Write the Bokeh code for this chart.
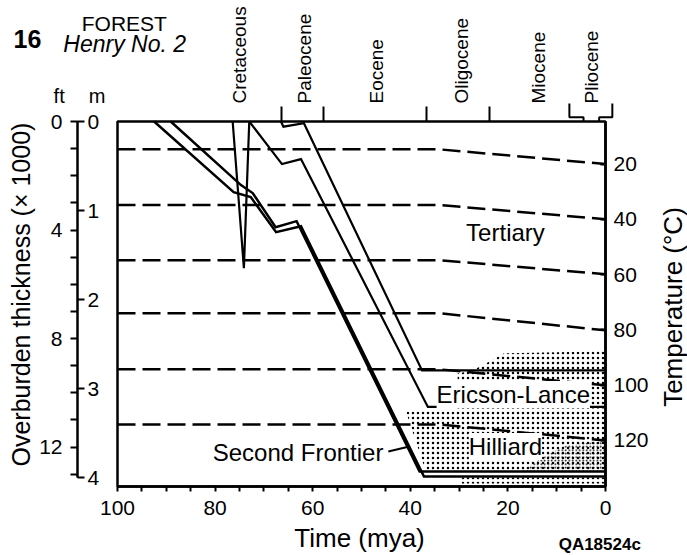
import math
from bokeh.plotting import figure
from bokeh.models import Range1d, LinearAxis, FixedTicker, Label
from bokeh.embed import file_html
from bokeh.resources import INLINE

FONT = "Liberation Sans"

# ---------------- data ----------------
epoch_names = ["Cretaceous", "Paleocene", "Eocene", "Oligocene", "Miocene", "Pliocene"]
epoch_label_mya = [75.0, 61.7, 47.0, 29.5, 13.7, 2.9]
epoch_bounds_mya = [66.4, 57.8, 36.6, 23.7]
pliocene_left_time = [7.4, 7.4, 4.5, 4.5]
pliocene_left_depth = [-202, -48, -48, 0]
pliocene_right_time = [1.3, 1.3, -1.4, -1.4]
pliocene_right_depth = [0, -48, -48, -202]

time_ticks = [0, 20, 40, 60, 80, 100]
time_minor = [5, 10, 15, 25, 30, 35, 45, 50, 55, 65, 70, 75, 85, 90, 95]

iso_temps = [20, 40, 60, 80, 100, 120]
iso_time = [100, 34, 0]
iso_depth_early = [313, 939, 1558, 2154, 2784, 3403]
iso_depth_now = [478, 1097, 1716, 2346, 2964, 3583]

curve_p_time = [66.5, 66.0, 61.8, 37.6, 0]
curve_p_depth = [0, 58, 20, 2796, 2796]
curve_q_time = [73.0, 66.3, 62.4, 36.4, 0]
curve_q_depth = [0, 478, 422, 3206, 3206]
spike_time = [76.4, 74.1, 73.0]
spike_depth = [0, 1648, 0]
curve_a2_time = [89.1, 74.7, 72.3, 67.6, 63.3, 38.1, 0]
curve_a2_depth = [0, 714, 804, 1187, 1119, 3932, 3932]
curve_a1_time = [92.5, 76.2, 72.7, 67.5, 62.4, 37.2, 0]
curve_a1_depth = [0, 793, 849, 1243, 1176, 3988, 3988]

leader_time = [44.5, 40.2]
leader_depth = [3707, 3651]

ericson_time = [30.3, 30.3, 27.6, 25.5, 20.8, 0, 0]
ericson_depth = [3223, 2830, 2800, 2750, 2604, 2582, 3223]
hilliard_time = [40.9, 0, 0, 36.8]
hilliard_depth = [3257, 3257, 3932, 3932]
dense_time = [17.3, 12.2, 8.1, 0, 0]
dense_depth = [3932, 3752, 3639, 3583, 3932]
bottom_time = [29.6, 0, 0, 29.6]
bottom_depth = [4000, 4000, 4065, 4065]

ft_major = [0, 4000, 8000, 12000]
ft_minor = [1000, 2000, 3000, 5000, 6000, 7000, 9000, 10000, 11000, 13000]
km_ticks = [0, 1000, 2000, 3000, 4000]

TIME_MAX = 100
DEPTH_MAX = 4100
FT_PER_M = 3.28084
M_PER_C = (3583 - 478) / 100.0
T_SURF = 20 - 478 / M_PER_C

# ---------------- layout constants ----------------
W, H = 687, 555
PX_PER_MYA = 4.88
M_PER_PX = DEPTH_MAX / 365.0
BOX_LEFT, BOX_TOP = 117, 121
X0 = TIME_MAX + BOX_LEFT / PX_PER_MYA
X1 = TIME_MAX - (W - BOX_LEFT) / PX_PER_MYA
Y_TOP = -BOX_TOP * M_PER_PX
Y_BOT = (H - BOX_TOP) * M_PER_PX
SCALE_X = TIME_MAX + 40 / PX_PER_MYA

p = figure(width=W, height=H, output_backend="svg", toolbar_location=None,
           x_range=Range1d(X0, X1), y_range=Range1d(Y_BOT, Y_TOP),
           x_axis_location=None, y_axis_location=None,
           min_border_left=0, min_border_right=0, min_border_top=0,
           min_border_bottom=0)
p.extra_y_ranges = {"ft": Range1d(Y_BOT * FT_PER_M, Y_TOP * FT_PER_M),
                    "temp": Range1d(T_SURF + Y_BOT / M_PER_C, T_SURF + Y_TOP / M_PER_C)}
p.xgrid.visible = False
p.ygrid.visible = False
p.outline_line_color = None
p.background_fill_color = "white"
p.border_fill_color = "white"


def style_axis(ax, label_size="21px"):
    ax.axis_line_color = "black"
    ax.axis_line_width = 2
    ax.major_tick_line_width = 2
    ax.minor_tick_line_width = 2
    ax.major_tick_line_color = "black"
    ax.minor_tick_line_color = "black"
    ax.major_label_text_font = FONT
    ax.major_label_text_font_size = label_size
    ax.major_label_text_color = "black"


# bottom time axis
xax = LinearAxis(fixed_location=DEPTH_MAX, bounds=(0, TIME_MAX),
                 ticker=FixedTicker(ticks=time_ticks, minor_ticks=time_minor))
style_axis(xax)
xax.axis_line_width = 2.5
xax.major_tick_out = 5
xax.major_tick_in = 0
xax.minor_tick_out = 5
xax.minor_tick_in = 0
xax.major_label_standoff = 9
p.add_layout(xax, "below")

# top epoch axis
top = LinearAxis(fixed_location=0,
                 ticker=FixedTicker(ticks=epoch_label_mya, minor_ticks=epoch_bounds_mya),
                 major_label_overrides={k: n for k, n in zip(epoch_label_mya, epoch_names)})
style_axis(top, "19px")
top.axis_line_color = None
top.major_tick_out = 0
top.major_tick_in = 0
top.minor_tick_out = 15
top.minor_tick_in = 0
top.major_label_orientation = math.pi / 2
top.major_label_standoff = 3
p.add_layout(top, "above")
p.line(pliocene_left_time, pliocene_left_depth, line_color="black", line_width=2)
p.line(pliocene_right_time, pliocene_right_depth, line_color="black", line_width=2)

# right temperature axis
tax = LinearAxis(y_range_name="temp", fixed_location=0,
                 bounds=(T_SURF, T_SURF + DEPTH_MAX / M_PER_C),
                 ticker=FixedTicker(ticks=iso_temps, minor_ticks=[]))
style_axis(tax)
tax.axis_line_width = 2.5
tax.major_tick_in = 5
tax.major_tick_out = 0
tax.minor_tick_in = 0
tax.minor_tick_out = 0
tax.major_label_standoff = 8
p.add_layout(tax, "right")

# left depth scale (feet x 1000)
ftax = LinearAxis(y_range_name="ft", fixed_location=SCALE_X,
                  bounds=(0, 4000 * FT_PER_M),
                  ticker=FixedTicker(ticks=ft_major, minor_ticks=ft_minor),
                  major_label_overrides={0: "0", 4000: "4", 8000: "8", 12000: "12"})
style_axis(ftax)
ftax.major_tick_out = 7
ftax.major_tick_in = 0
ftax.minor_tick_out = 7
ftax.minor_tick_in = 0
ftax.major_label_standoff = 8
p.add_layout(ftax, "left")

# left depth scale (km)
kmax = LinearAxis(fixed_location=SCALE_X, bounds=(0, 4000),
                  ticker=FixedTicker(ticks=km_ticks, minor_ticks=[]),
                  major_label_overrides={0: "0", 1000: "1", 2000: "2", 3000: "3", 4000: "4"})
style_axis(kmax)
kmax.major_tick_out = 7
kmax.major_tick_in = 0
kmax.minor_tick_out = 0
kmax.minor_tick_in = 0
kmax.major_label_standoff = 3
p.add_layout(kmax, "right")

# plot box
p.quad(left=TIME_MAX, right=0, top=0, bottom=DEPTH_MAX, fill_color=None,
       line_color="black", line_width=2.5)

# stippled units
hatch_kw = dict(fill_color=None, line_color=None, hatch_pattern=".",
                hatch_color="black", hatch_weight=2)
p.patch(ericson_time, ericson_depth, hatch_scale=5, **hatch_kw)
p.patch(hilliard_time, hilliard_depth, hatch_scale=5, **hatch_kw)
p.patch(dense_time, dense_depth, hatch_scale=3.5, **hatch_kw)
p.patch(bottom_time, bottom_depth, hatch_scale=5, **hatch_kw)

# isotherms
for d0, d1 in zip(iso_depth_early, iso_depth_now):
    p.line(iso_time, [d0, d0, d1], line_color="black", line_width=2.5,
           line_dash="18 7")

# burial curves
for xs, ys in [(curve_p_time, curve_p_depth), (curve_q_time, curve_q_depth),
               (spike_time, spike_depth)]:
    p.line(xs, ys, line_color="black", line_width=2.2, line_join="miter")
for xs, ys in [(curve_a2_time, curve_a2_depth), (curve_a1_time, curve_a1_depth)]:
    p.line(xs, ys, line_color="black", line_width=2.5, line_join="miter")
p.line(leader_time, leader_depth, line_color="black", line_width=2)


def add_text(x, y, text, size, align="left", style="normal", bg=None, angle=0.0):
    lab = Label(x=x, y=y, text=text, text_font=FONT, text_font_size=size,
                text_align=align, text_baseline="middle", text_font_style=style,
                text_color="black", angle=angle)
    if bg is not None:
        lab.background_fill_color = bg
    p.add_layout(lab)


add_text(20.5, 1247, "Tertiary", "24px", align="center")
add_text(18.9, 3067, "Ericson-Lance", "24px", align="center", bg="white")
add_text(20.5, 3651, "Hilliard", "24px", align="center", bg="white")
add_text(45.5, 3718, "Second Frontier", "24px", align="right")

add_text(121.3, -932, "16", "25px", style="bold")
add_text(98.6, -1106, "FOREST", "21px", align="center")
add_text(111.1, -870, "Henry No. 2", "23px", style="italic")
add_text(113.1, -292, "ft", "20px")
add_text(105.9, -292, "m", "20px")
add_text(9.6, 4746, "QA18524c", "17px", style="bold")

add_text(50.4, 4684, "Time (mya)", "26px", align="center")
add_text(-13.9, 2084, "Temperature (°C)", "26px", align="center", angle=math.pi / 2)
add_text(119.7, 1944, "Overburden thickness (× 1000)", "25px", align="center",
         angle=math.pi / 2)

open("out.html", "w").write(file_html(p, INLINE))
